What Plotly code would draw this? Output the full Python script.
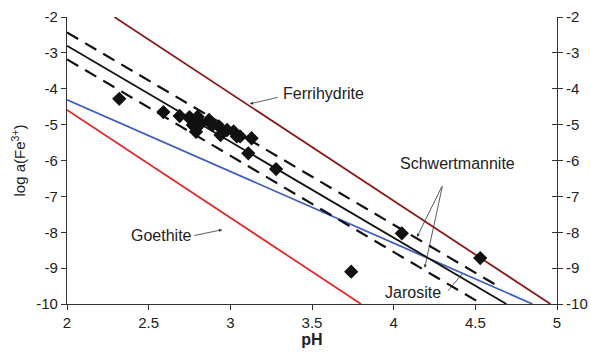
import plotly.graph_objects as go

# Measured samples
sample_ph = [2.32, 2.59, 2.69, 2.75, 2.75, 2.77, 2.79, 2.79, 2.80, 2.82, 2.87, 2.89, 2.93, 2.94,
             2.98, 3.02, 3.04, 3.06, 3.13, 3.11, 3.28, 3.74, 4.05, 4.53]
sample_logfe = [-4.28, -4.65, -4.76, -4.79, -4.82, -5.01, -5.20, -5.10, -4.78, -4.96, -4.87, -5.01, -5.05, -5.29,
                -5.15, -5.19, -5.33, -5.33, -5.38, -5.80, -6.24, -9.10, -8.03, -8.72]

# Solubility lines (end points)
ferri_ph = [2.29, 4.96]
ferri_log = [-2.0, -10.0]
schw_ph = [2.0, 4.69]
schw_log = [-2.80, -10.0]
schw_hi_ph = [2.0, 4.66]
schw_hi_log = [-2.43, -9.56]
schw_lo_ph = [2.0, 4.54]
schw_lo_log = [-3.18, -10.0]
jaro_ph = [2.0, 4.85]
jaro_log = [-4.31, -10.0]
goe_ph = [2.0, 3.80]
goe_log = [-4.59, -10.0]

x_ticks = [2, 2.5, 3, 3.5, 4, 4.5, 5]
x_ticklabels = ["2", "2.5", "3", "3.5", "4", "4.5", "5"]
y_ticks = [-2, -3, -4, -5, -6, -7, -8, -9, -10]
y_ticklabels = ["-2", "-3", "-4", "-5", "-6", "-7", "-8", "-9", "-10"]

fig = go.Figure()

def line(x, y, color, dash="solid", width=1.8):
    fig.add_trace(go.Scatter(x=x, y=y, mode="lines",
                             line=dict(color=color, width=width, dash=dash),
                             showlegend=False, hoverinfo="skip"))

line(ferri_ph, ferri_log, "#8B1A1A")
line(jaro_ph, jaro_log, "#3F5FBF")
line(goe_ph, goe_log, "#E8282A")
line(schw_ph, schw_log, "#111111")
line(schw_hi_ph, schw_hi_log, "#111111", dash="13px,8px", width=2.2)
line(schw_lo_ph, schw_lo_log, "#111111", dash="13px,8px", width=2.2)

fig.add_trace(go.Scatter(x=sample_ph, y=sample_logfe, mode="markers",
                         marker=dict(symbol="diamond", size=11, color="#111111"),
                         showlegend=False))

# invisible traces for the right axes
fig.add_trace(go.Scatter(x=[2, 5], y=[-10, -2], yaxis="y2", mode="markers",
                         marker=dict(opacity=0), showlegend=False, hoverinfo="skip"))
fig.add_trace(go.Scatter(x=[2, 5], y=[-10, -2], yaxis="y3", mode="markers",
                         marker=dict(opacity=0), showlegend=False, hoverinfo="skip"))

font = dict(family="Liberation Sans, Arial, sans-serif", size=15, color="#222222")

axis_common = dict(showgrid=False, zeroline=False, showline=True, linecolor="#333333", linewidth=1.2,
                   ticks="outside", ticklen=5, tickcolor="#333333", automargin=False,
                   tickfont=dict(size=15))

fig.update_layout(
    width=591, height=356,
    margin=dict(l=67, r=34, t=17, b=52),
    paper_bgcolor="white", plot_bgcolor="white",
    font=font,
    xaxis=dict(range=[2, 5], tickvals=x_ticks, ticktext=x_ticklabels,
               title=dict(text="<b>pH</b>", font=dict(size=16), standoff=2), **axis_common),
    yaxis=dict(range=[-10, -2], tickvals=y_ticks, ticktext=y_ticklabels,
               title=dict(text="log a(Fe<sup>3+</sup>)", font=dict(size=15), standoff=6), **axis_common),
    yaxis2=dict(range=[-10, -2], tickvals=y_ticks, ticktext=y_ticklabels, overlaying="y", side="right",
                **axis_common),
    yaxis3=dict(range=[-10, -2], tickvals=y_ticks, overlaying="y", side="right",
                showgrid=False, zeroline=False, showline=False, showticklabels=False,
                ticks="inside", ticklen=5, tickcolor="#333333", automargin=False),
)

arrow_color = "#333333"

def arrow(x, y, ax, ay, head=2):
    fig.add_annotation(x=x, y=y, ax=ax, ay=ay, xref="x", yref="y", axref="x", ayref="y",
                       text="", showarrow=True, arrowhead=head, arrowsize=0.8,
                       arrowwidth=0.8, arrowcolor=arrow_color)

def label(x, y, text, anchor="center"):
    fig.add_annotation(x=x, y=y, xref="x", yref="y", text=text, showarrow=False,
                       xanchor=anchor, font=dict(size=16, color="#222222"))

label(3.57, -4.12, "Ferrihydrite")
arrow(3.12, -4.42, 3.30, -4.23)
label(2.576, -8.10, "Goethite")
arrow(2.95, -7.93, 2.77, -8.10)
label(4.39, -6.07, "Schwertmannite")
arrow(4.143, -8.13, 4.30, -6.68)
arrow(4.19, -8.99, 4.30, -6.68)
label(4.12, -9.69, "Jarosite")
fig.add_shape(type="line", x0=4.333, y0=-9.63, x1=4.42, y1=-9.16, xref="x", yref="y",
              line=dict(color=arrow_color, width=0.8))

fig.write_html("out.html")
